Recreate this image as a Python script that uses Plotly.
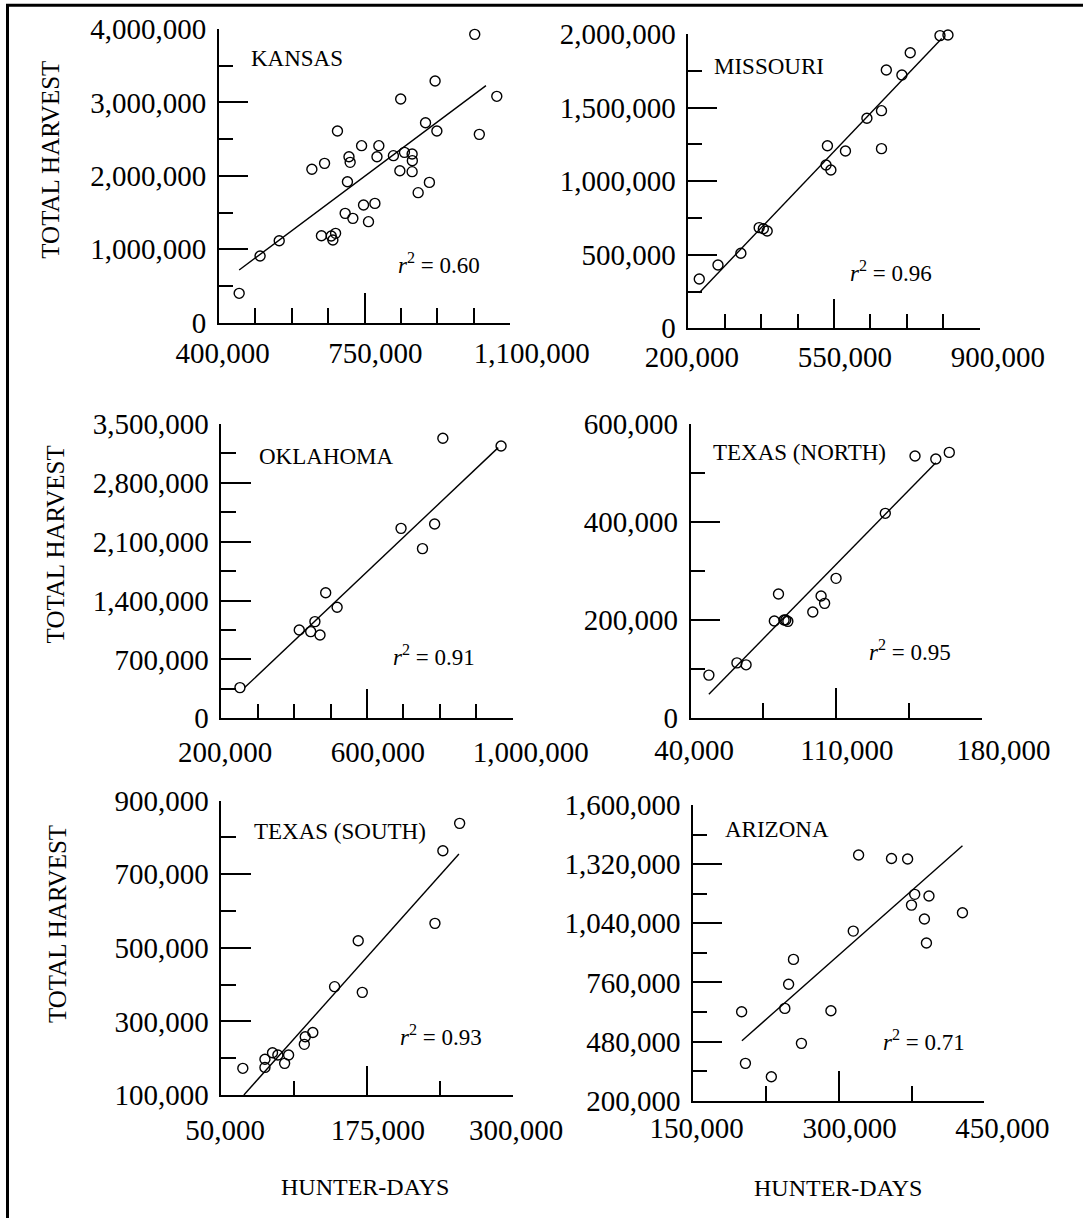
import plotly.graph_objects as go

W, H = 1083, 1218
FONT = "Liberation Serif"

# ---------------- data ----------------
kansas_x = [448700, 499000, 545000, 623500, 654000, 685000, 646500, 670000, 674000, 680500,
            703500, 722000, 709000, 712700, 715500, 743000, 747700, 775000, 759600, 784500,
            780000, 819500, 837000, 835000, 846000, 864500, 865000, 864500, 879000, 896700,
            906000, 919700, 924000, 1015000, 1026000, 1068000]
kansas_y = [400000, 908000, 1117000, 2089000, 2170000, 2611000, 1185000, 1180000, 1126000, 1217000,
            1489000, 1421000, 1920000, 2261000, 2184000, 2411000, 1603000, 1625000, 1376000, 2411000,
            2261000, 2275000, 3047000, 2070000, 2320000, 2297000, 2207000, 2057000, 1771000, 2724000,
            1911000, 3292000, 2611000, 3927000, 2565000, 3083000]
kansas_fit_x = [448700, 1042000]
kansas_fit_y = [717000, 3228000]

missouri_x = [226600, 271500, 326400, 370400, 380400, 389600, 534200, 530900, 542500, 577500,
              629000, 664000, 664000, 675600, 713000, 733000, 804400, 823600]
missouri_y = [335000, 430000, 510000, 684000, 677000, 661000, 1241000, 1110000, 1076000, 1205000,
              1427000, 1479000, 1221000, 1755000, 1721000, 1873000, 1989000, 1993000]
missouri_fit_x = [226600, 808600]
missouri_fit_y = [242000, 1970000]

oklahoma_x = [251000, 414000, 445400, 457000, 471000, 486600, 518000, 693700, 752600, 786000,
              808600, 968600]
oklahoma_y = [365000, 1050000, 1031000, 1150000, 991000, 1494000, 1320000, 2259000, 2018000, 2311000,
              3330000, 3238000]
oklahoma_fit_x = [263800, 960700]
oklahoma_fit_y = [365000, 3219000]

texas_n_x = [48800, 62300, 66700, 80300, 82300, 85000, 85800, 86800, 98800, 102800,
             104500, 110000, 133700, 148000, 158000, 164500]
texas_n_y = [87000, 112000, 108000, 197500, 252700, 199500, 199500, 196800, 215900, 248600,
             233600, 284700, 417500, 534600, 528500, 542000]
texas_n_fit_x = [48800, 158000]
texas_n_fit_y = [47700, 521000]

texas_s_x = [68400, 87400, 87400, 93900, 98500, 104300, 107700, 121200, 122000, 128500,
             147200, 167500, 171000, 233400, 240200, 254600]
texas_s_y = [172500, 197000, 175000, 215000, 208700, 186000, 208700, 237700, 258500, 270000,
             394500, 519500, 379000, 566600, 764000, 838400]
texas_s_fit_x = [69300, 254000]
texas_s_fit_y = [100000, 755000]

arizona_x = [200000, 203900, 230600, 244500, 248400, 253400, 261600, 292000, 315000, 320500,
             354400, 371000, 375000, 378300, 388300, 390400, 393000, 427500]
arizona_y = [621000, 376800, 313600, 637000, 751000, 869000, 471500, 626000, 1003000, 1363000,
             1347000, 1344000, 1126000, 1177000, 1060000, 946600, 1169000, 1090000]
arizona_fit_x = [200300, 427500]
arizona_fit_y = [484000, 1407000]

panel_names = ["KANSAS", "MISSOURI", "OKLAHOMA", "TEXAS (NORTH)", "TEXAS (SOUTH)", "ARIZONA"]
r2_values = ["0.60", "0.96", "0.91", "0.95", "0.93", "0.71"]

x_tickvals = [[400000, 750000, 1100000], [200000, 550000, 900000], [200000, 600000, 1000000],
              [40000, 110000, 180000], [50000, 175000, 300000], [150000, 300000, 450000]]
x_minor = [87500, 87500, 100000, 35000, 62500, 75000]
y_ranges = [[0, 4000000], [0, 2000000], [0, 3500000],
            [0, 600000], [100000, 900000], [200000, 1600000]]
y_major = [1000000, 500000, 700000, 200000, 200000, 280000]
y_minor = [500000, 250000, 350000, 100000, 100000, 140000]

y_title = "TOTAL HARVEST"
x_title = "HUNTER-DAYS"

series = [
    (kansas_x, kansas_y, kansas_fit_x, kansas_fit_y),
    (missouri_x, missouri_y, missouri_fit_x, missouri_fit_y),
    (oklahoma_x, oklahoma_y, oklahoma_fit_x, oklahoma_fit_y),
    (texas_n_x, texas_n_y, texas_n_fit_x, texas_n_fit_y),
    (texas_s_x, texas_s_y, texas_s_fit_x, texas_s_fit_y),
    (arizona_x, arizona_y, arizona_fit_x, arizona_fit_y),
]

# ---------------- layout geometry (pixels) ----------------
boxes = [  # x0, x1, ytop, ybottom
    (218.9, 510.1, 29, 322.7),
    (688.2, 979.8, 34, 328.3),
    (221.4, 512.5, 424, 718.3),
    (690.6, 981.5, 424, 717.7),
    (221.4, 512.5, 800.7, 1095),
    (693.1, 984.3, 805, 1100.7),
]
xlabel_standoff = [4, 2, 7, 6, 8, 1]
xlabel_pad = [[1, 3, 6], [1, 3, 5], [1, 3, 5], [1, 3, 6], [1, 3, 1], [1, 3, 5]]  # label nudges
title_pos = [(248.7, 58), (712.1, 66), (257.1, 456.7), (711.4, 453), (251.8, 831.7), (722.5, 830)]
r2_pos = [(396, 263), (848.2, 271.7), (391, 655), (867.2, 650), (398.2, 1035), (881.1, 1040)]
ytitle_pos = [(49.7, 160), (55.4, 544), (57, 924)]
xtitle_pos = [(364.6, 1187), (838, 1188)]

TICKSIZE = 29
MAJ, MIN = 29.5, 14.5


def px(x):
    return x / W


def py(y):
    return 1 - y / H


fig = go.Figure()
annotations = []
for i, ((xs, ys, fx, fy), box) in enumerate(zip(series, boxes)):
    n = "" if i == 0 else str(i + 1)
    xa, ya = "x" + n, "y" + n
    fig.add_trace(go.Scatter(x=fx, y=fy, mode="lines", xaxis=xa, yaxis=ya,
                             line=dict(color="black", width=1.4), showlegend=False,
                             hoverinfo="skip", cliponaxis=False))
    fig.add_trace(go.Scatter(x=xs, y=ys, mode="markers", xaxis=xa, yaxis=ya,
                             marker=dict(symbol="circle-open", size=10, color="black",
                                         line=dict(width=1.4, color="black")),
                             showlegend=False, cliponaxis=False))
    x0, x1, yt, yb = box
    tv = x_tickvals[i]
    tt = ["\u00a0" * p + f"{v:,}" for v, p in zip(tv, xlabel_pad[i])]
    fig.layout["xaxis" + n] = dict(
        domain=[px(x0), px(x1)], range=[tv[0], tv[-1]], anchor=ya, automargin=False,
        showline=True, linecolor="black", linewidth=1.5, showgrid=False, zeroline=False,
        ticks="inside", ticklen=MAJ, tickwidth=1.5, tickcolor="black",
        tickmode="array", tickvals=tv, ticktext=tt,
        tickfont=dict(family=FONT, size=TICKSIZE, color="black"),
        ticklabelstandoff=xlabel_standoff[i],
        minor=dict(ticks="inside", ticklen=MIN, tickwidth=1.5, tickcolor="black",
                   tickmode="linear", tick0=tv[0], dtick=x_minor[i], showgrid=False),
    )
    fig.layout["yaxis" + n] = dict(
        domain=[py(yb), py(yt)], range=y_ranges[i], anchor=xa, automargin=False,
        showline=True, linecolor="black", linewidth=1.5, showgrid=False, zeroline=False,
        ticks="inside", ticklen=MAJ, tickwidth=1.5, tickcolor="black",
        tickmode="linear", tick0=y_ranges[i][0], dtick=y_major[i], tickformat=",d",
        tickfont=dict(family=FONT, size=TICKSIZE, color="black"), ticklabelstandoff=5,
        minor=dict(ticks="inside", ticklen=MIN, tickwidth=1.5, tickcolor="black",
                   tick0=y_ranges[i][0], dtick=y_minor[i], showgrid=False),
    )
    tx, ty = title_pos[i]
    annotations.append(dict(x=px(tx), y=py(ty), xref="paper", yref="paper", text=panel_names[i],
                            showarrow=False, xanchor="left", yanchor="middle",
                            font=dict(family=FONT, size=23, color="black")))
    rx, ry = r2_pos[i]
    annotations.append(dict(x=px(rx), y=py(ry), xref="paper", yref="paper",
                            text="<i>r</i><sup>2</sup> = " + r2_values[i],
                            showarrow=False, xanchor="left", yanchor="middle",
                            font=dict(family=FONT, size=23, color="black")))

for (tx, ty) in ytitle_pos:
    annotations.append(dict(x=px(tx), y=py(ty), xref="paper", yref="paper", text=y_title,
                            showarrow=False, textangle=-90, xanchor="center", yanchor="middle",
                            font=dict(family=FONT, size=25, color="black")))
for (tx, ty) in xtitle_pos:
    annotations.append(dict(x=px(tx), y=py(ty), xref="paper", yref="paper", text=x_title,
                            showarrow=False, xanchor="center", yanchor="middle",
                            font=dict(family=FONT, size=24, color="black")))

shapes = [
    dict(type="line", xref="paper", yref="paper", x0=px(6), x1=1, y0=py(5.3), y1=py(5.3),
         line=dict(color="black", width=3)),
    dict(type="line", xref="paper", yref="paper", x0=px(7.5), x1=px(7.5), y0=0, y1=py(4),
         line=dict(color="black", width=3)),
]

fig.update_layout(template="none", width=W, height=H, margin=dict(l=0, r=0, t=0, b=0, pad=0),
                  autosize=False,
                  paper_bgcolor="white", plot_bgcolor="white",
                  annotations=annotations, shapes=shapes,
                  font=dict(family=FONT, color="black"))

fig.write_html("out.html")
